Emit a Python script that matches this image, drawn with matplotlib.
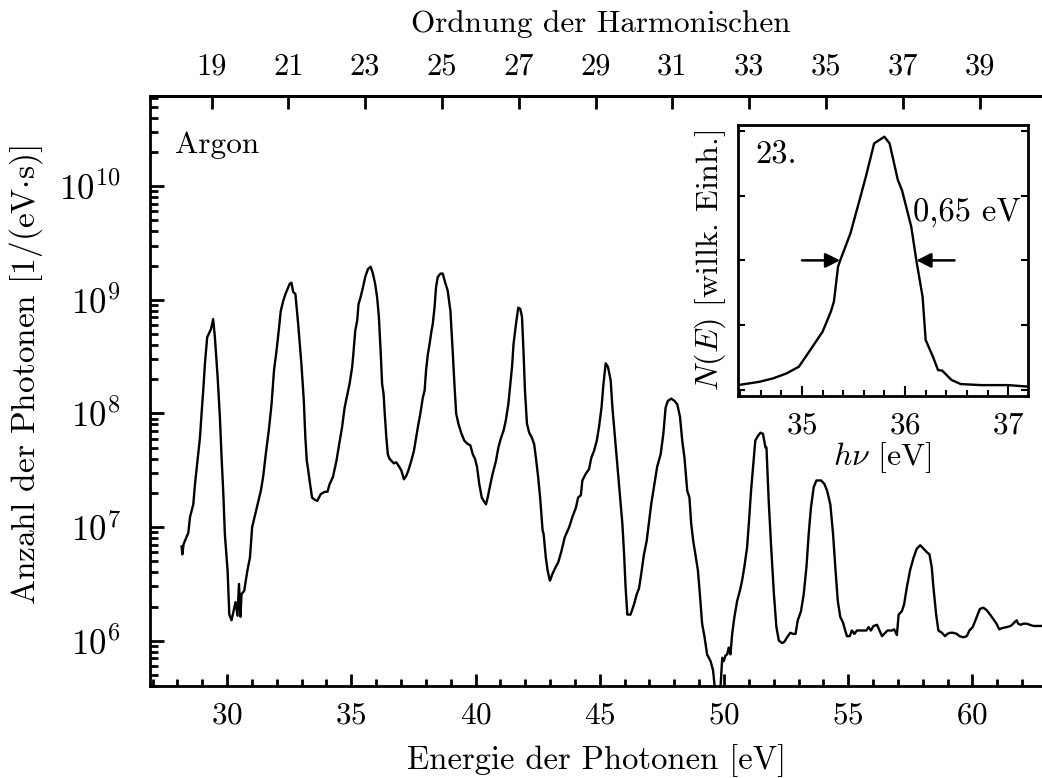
import numpy as np
import matplotlib
matplotlib.use("Agg")
import matplotlib.pyplot as plt
from matplotlib.ticker import MultipleLocator, LogLocator, NullFormatter, FixedLocator

plt.rcParams['font.family'] = 'serif'
plt.rcParams['font.serif'] = ['cmr10']
plt.rcParams['mathtext.fontset'] = 'cm'
plt.rcParams['axes.formatter.use_mathtext'] = True
plt.rcParams['axes.unicode_minus'] = False

# Argon harmonic spectrum: photon energy [eV] and log10 of photon number [1/(eV s)]
energy = [
    28.17, 28.20, 28.25, 28.44, 28.51, 28.64, 28.71, 28.82, 28.91, 28.98, 29.04, 29.11, 29.20, 29.35, 29.44,
    29.51, 29.62, 29.71, 29.78, 29.85, 29.91, 30.02, 30.09, 30.18, 30.25, 30.34, 30.42, 30.48, 30.54, 30.58,
    30.69, 30.82, 30.92, 31.01, 31.14, 31.36, 31.45, 31.59, 31.68, 31.79, 31.89, 31.99, 32.08, 32.16, 32.26,
    32.35, 32.52, 32.59, 32.66, 32.75, 32.86, 32.99, 33.09, 33.15, 33.21, 33.26, 33.34, 33.42, 33.53, 33.63,
    33.77, 33.93, 34.04, 34.13, 34.26, 34.40, 34.49, 34.63, 34.73, 34.87, 34.93, 35.03,
    35.07, 35.16, 35.24, 35.29, 35.37, 35.47, 35.56, 35.67, 35.78, 35.87, 35.96, 36.04, 36.11, 36.18, 36.24,
    36.30, 36.34, 36.41, 36.47, 36.54, 36.63, 36.71, 36.81, 36.90, 37.01, 37.12, 37.21, 37.30, 37.41, 37.52,
    37.61, 37.68, 37.78, 37.88, 37.95, 38.01, 38.08, 38.15, 38.21, 38.28, 38.35, 38.41, 38.48, 38.59, 38.68,
    38.78, 38.88, 38.99, 39.08, 39.15, 39.22, 39.31, 39.42, 39.55, 39.69, 39.79, 39.89, 39.98, 40.06, 40.15,
    40.25, 40.33, 40.42, 40.49, 40.60, 40.69, 40.82, 40.92, 41.02, 41.13, 41.22, 41.32, 41.40, 41.47, 41.53,
    41.63, 41.72, 41.80, 41.87, 41.93, 41.99, 42.07, 42.16, 42.26, 42.36, 42.43, 42.52, 42.60, 42.70, 42.74,
    42.83, 42.90, 42.99,
    43.00, 43.10, 43.23, 43.33, 43.46, 43.59, 43.77, 43.90, 44.04, 44.13, 44.24, 44.30, 44.44, 44.57, 44.66,
    44.77, 44.88, 44.97, 45.07, 45.15, 45.24, 45.33, 45.44, 45.51, 45.60, 45.71, 45.82, 45.91, 45.98, 46.04,
    46.11, 46.24, 46.38, 46.49, 46.58, 46.67, 46.78, 46.89, 46.98, 47.07, 47.18, 47.31, 47.45, 47.56, 47.65,
    47.74, 47.88, 48.01, 48.12, 48.23, 48.32, 48.41, 48.52, 48.61, 48.68, 48.76, 48.85, 48.95, 49.03, 49.12,
    49.22, 49.32, 49.46, 49.56, 49.63, 49.75, 49.86, 49.93, 49.99, 50.06, 50.13, 50.19, 50.26, 50.33, 50.42,
    50.53, 50.64, 50.73, 50.82, 50.93, 51.00, 51.09, 51.17, 51.26, 51.36, 51.47, 51.57, 51.67,
    51.71, 51.80, 51.90, 52.01, 52.11, 52.21, 52.34, 52.43, 52.54, 52.67, 52.78, 52.88, 52.97, 53.10, 53.21,
    53.32, 53.41, 53.50, 53.61, 53.72, 53.91, 54.04, 54.15, 54.28, 54.39, 54.48, 54.58, 54.68, 54.79, 54.88,
    54.95, 55.06, 55.15, 55.25, 55.35, 55.46, 55.62, 55.73, 55.82, 55.91, 56.02, 56.16, 56.26, 56.36, 56.45,
    56.58, 56.76, 56.85, 56.96, 57.03, 57.16, 57.25, 57.36, 57.49, 57.63, 57.76, 57.90, 58.03, 58.16, 58.27,
    58.36, 58.43, 58.54, 58.63, 58.77, 58.90, 58.99, 59.10, 59.23, 59.37, 59.48, 59.64, 59.77, 59.88, 60.01,
    60.14, 60.30, 60.44, 60.57, 60.71, 60.84, 60.97, 61.08, 61.18, 61.38, 61.54, 61.64, 61.78, 61.84, 61.94,
    62.05, 62.18, 62.31, 62.45, 62.65, 62.80,
]
log_photons = [
    6.83, 6.76, 6.85, 6.95, 7.09, 7.20, 7.38, 7.61, 7.79, 8.02, 8.20, 8.44, 8.67, 8.74, 8.83,
    8.67, 8.32, 7.97, 7.61, 7.29, 6.94, 6.62, 6.23, 6.18, 6.25, 6.34, 6.22, 6.50, 6.21, 6.41,
    6.44, 6.62, 6.73, 7.00, 7.12, 7.32, 7.44, 7.70, 7.85, 8.08, 8.38, 8.55, 8.73, 8.90, 8.99,
    9.05, 9.14, 9.15, 9.07, 9.05, 8.79, 8.44, 8.11, 7.79, 7.58, 7.51, 7.38, 7.26, 7.24, 7.23,
    7.29, 7.31, 7.31, 7.38, 7.44, 7.58, 7.70, 7.88, 8.05, 8.20, 8.26, 8.40,
    8.49, 8.73, 8.82, 8.96, 9.02, 9.11, 9.20, 9.27, 9.29, 9.23, 9.14, 9.02, 8.85, 8.55, 8.26,
    8.17, 8.02, 7.79, 7.64, 7.60, 7.58, 7.56, 7.57, 7.54, 7.50, 7.42, 7.45, 7.50, 7.58, 7.67,
    7.79, 7.88, 8.00, 8.14, 8.20, 8.38, 8.52, 8.61, 8.70, 8.79, 8.93, 9.11, 9.20, 9.23, 9.23,
    9.15, 9.08, 8.90, 8.55, 8.26, 8.00, 7.91, 7.83, 7.76, 7.73, 7.72, 7.64, 7.60, 7.53, 7.38,
    7.26, 7.23, 7.20, 7.26, 7.38, 7.47, 7.58, 7.70, 7.78, 7.85, 7.94, 8.08, 8.26, 8.41, 8.61,
    8.79, 8.93, 8.92, 8.85, 8.55, 8.20, 7.91, 7.83, 7.79, 7.73, 7.61, 7.44, 7.26, 6.97, 6.94,
    6.73, 6.62, 6.53,
    6.53, 6.59, 6.65, 6.69, 6.79, 6.91, 7.00, 7.09, 7.17, 7.26, 7.28, 7.41, 7.47, 7.51, 7.61,
    7.67, 7.76, 7.88, 8.05, 8.26, 8.44, 8.41, 8.29, 8.05, 7.82, 7.53, 7.26, 7.03, 6.76, 6.47,
    6.23, 6.23, 6.32, 6.41, 6.46, 6.59, 6.76, 6.88, 7.04, 7.20, 7.35, 7.53, 7.64, 7.82, 8.05,
    8.11, 8.13, 8.11, 8.08, 7.97, 7.76, 7.61, 7.32, 7.26, 7.03, 6.88, 6.76, 6.62, 6.41, 6.15,
    6.03, 5.88, 5.82, 5.74, 5.59, 5.30, 5.59, 5.85, 5.82, 5.87, 5.88, 5.94, 5.88, 6.06, 6.21,
    6.35, 6.44, 6.53, 6.65, 6.82, 7.03, 7.32, 7.53, 7.76, 7.80, 7.83, 7.82, 7.70,
    7.70, 7.23, 6.82, 6.41, 6.12, 6.00, 5.98, 5.99, 6.03, 6.07, 6.06, 6.06, 6.18, 6.26, 6.41,
    6.65, 6.94, 7.17, 7.35, 7.41, 7.41, 7.38, 7.32, 7.20, 6.94, 6.65, 6.35, 6.21, 6.16, 6.09,
    6.04, 6.04, 6.09, 6.06, 6.09, 6.09, 6.09, 6.09, 6.12, 6.09, 6.13, 6.14, 6.09, 6.04, 6.06,
    6.09, 6.09, 6.10, 6.05, 6.23, 6.26, 6.32, 6.47, 6.62, 6.73, 6.81, 6.84, 6.81, 6.78, 6.76,
    6.65, 6.47, 6.23, 6.09, 6.07, 6.04, 6.06, 6.07, 6.07, 6.06, 6.04, 6.03, 6.04, 6.09, 6.12,
    6.19, 6.28, 6.29, 6.27, 6.23, 6.19, 6.15, 6.10, 6.11, 6.12, 6.13, 6.15, 6.18, 6.15, 6.14,
    6.15, 6.15, 6.14, 6.13, 6.13, 6.13,
]

# 23rd harmonic, linear scale
inset_energy = [34.38, 34.59, 34.72, 34.85, 34.97, 35.08, 35.20, 35.28, 35.31, 35.35, 35.37, 35.47, 35.55,
                35.62, 35.70, 35.80, 35.85, 35.93, 35.97, 36.06, 36.11, 36.17, 36.20, 36.27, 36.32, 36.36,
                36.45, 36.54, 36.74, 37.00, 37.20]
inset_signal = [0.019, 0.032, 0.045, 0.064, 0.090, 0.154, 0.225, 0.302, 0.341, 0.476, 0.499, 0.604, 0.720,
                0.823, 0.951, 0.977, 0.951, 0.810, 0.771, 0.630, 0.499, 0.360, 0.193, 0.129, 0.077, 0.075,
                0.039, 0.023, 0.019, 0.019, 0.013]
fwhm_left = 35.37
fwhm_right = 36.11
half_level = 0.5

orders = [19, 21, 23, 25, 27, 29, 31, 33, 35, 37, 39]
photon_energy = 1.546  # eV, fundamental

fs = 22.5
lw_axis = 2.0

fig = plt.figure(figsize=(10.42, 7.78), dpi=100)
ax = fig.add_axes([0.144, 0.1183, 0.856, 0.7583])

ax.plot(energy, 10 ** np.array(log_photons), color='black', lw=1.7)
ax.set_yscale('log')
ax.set_xlim(26.9, 62.8)
ax.set_ylim(4.0e5, 6.2e10)

ax.xaxis.set_major_locator(MultipleLocator(5))
ax.xaxis.set_minor_locator(MultipleLocator(1))
ax.yaxis.set_major_locator(LogLocator(base=10, numticks=20))
ax.yaxis.set_minor_locator(LogLocator(base=10, subs=np.arange(2, 10), numticks=20))
ax.yaxis.set_minor_formatter(NullFormatter())

ax.tick_params(axis='both', which='both', direction='in', top=False, right=False, width=lw_axis)
ax.tick_params(axis='x', which='major', length=8.5, pad=11, labelsize=fs)
ax.tick_params(axis='x', which='minor', length=4.8)
ax.tick_params(axis='y', which='major', length=10, pad=21, labelsize=25)
ax.tick_params(axis='y', which='minor', length=5.5)
for side in ['left', 'bottom', 'top']:
    ax.spines[side].set_linewidth(lw_axis)
ax.spines['right'].set_visible(False)

ax.set_xlabel('Energie der Photonen [eV]', fontsize=23.5)
ax.xaxis.set_label_coords(0.501, -0.099)
ax.set_ylabel(r'Anzahl der Photonen [1/(eV$\cdot$s)]', fontsize=24)
ax.yaxis.set_label_coords(-0.118, 0.527)
ax.text(0.028, 0.903, 'Argon', transform=ax.transAxes, fontsize=fs, va='baseline', ha='left')

# harmonic order scale on top
ax_top = ax.twiny()
ax_top.set_xlim(ax.get_xlim())
ax_top.xaxis.set_major_locator(FixedLocator([q * photon_energy for q in orders]))
ax_top.set_xticklabels([str(q) for q in orders])
ax_top.tick_params(axis='x', which='major', direction='in', length=9, width=lw_axis, labelsize=22, pad=11)
ax_top.tick_params(axis='x', which='minor', top=False)
ax_top.spines['right'].set_visible(False)
ax_top.spines['top'].set_linewidth(lw_axis)
ax_top.set_xlabel('Ordnung der Harmonischen', fontsize=fs)
ax_top.xaxis.set_label_coords(0.505, 1.108)

# inset: single harmonic line shape
axi = fig.add_axes([0.7083, 0.491, 0.278, 0.3483])
axi.plot(inset_energy, inset_signal, color='black', lw=1.7)
axi.set_xlim(34.38, 37.19)
axi.set_ylim(-0.023, 1.022)
axi.xaxis.set_major_locator(MultipleLocator(1))
axi.xaxis.set_minor_locator(MultipleLocator(0.2))
axi.yaxis.set_major_locator(MultipleLocator(0.25))
axi.yaxis.set_major_formatter(NullFormatter())
axi.tick_params(axis='both', which='both', direction='in', width=1.5, labelsize=fs)
axi.tick_params(axis='x', which='major', length=7, pad=11)
axi.tick_params(axis='x', which='minor', length=4)
axi.tick_params(axis='y', which='major', length=5, right=True)
for side in axi.spines.values():
    side.set_linewidth(lw_axis)
axi.set_xlabel(r'$h\nu$ [eV]', fontsize=23, labelpad=1)
axi.set_ylabel(r'$N(E)$ [willk. Einh.]', fontsize=23, labelpad=4)

arrow = dict(arrowstyle='-|>', color='black', lw=1.8, mutation_scale=22, shrinkA=0, shrinkB=0)
axi.annotate('', xy=(fwhm_left, half_level), xytext=(35.0, half_level), arrowprops=arrow)
axi.annotate('', xy=(fwhm_right, half_level), xytext=(36.48, half_level), arrowprops=arrow)
axi.text(0.603, 0.649, '0,65 eV', transform=axi.transAxes, fontsize=23.5, va='baseline', ha='left')
axi.text(0.059, 0.859, '23.', transform=axi.transAxes, fontsize=23.5, va='baseline', ha='left')

fig.savefig('out.png', dpi=100)
